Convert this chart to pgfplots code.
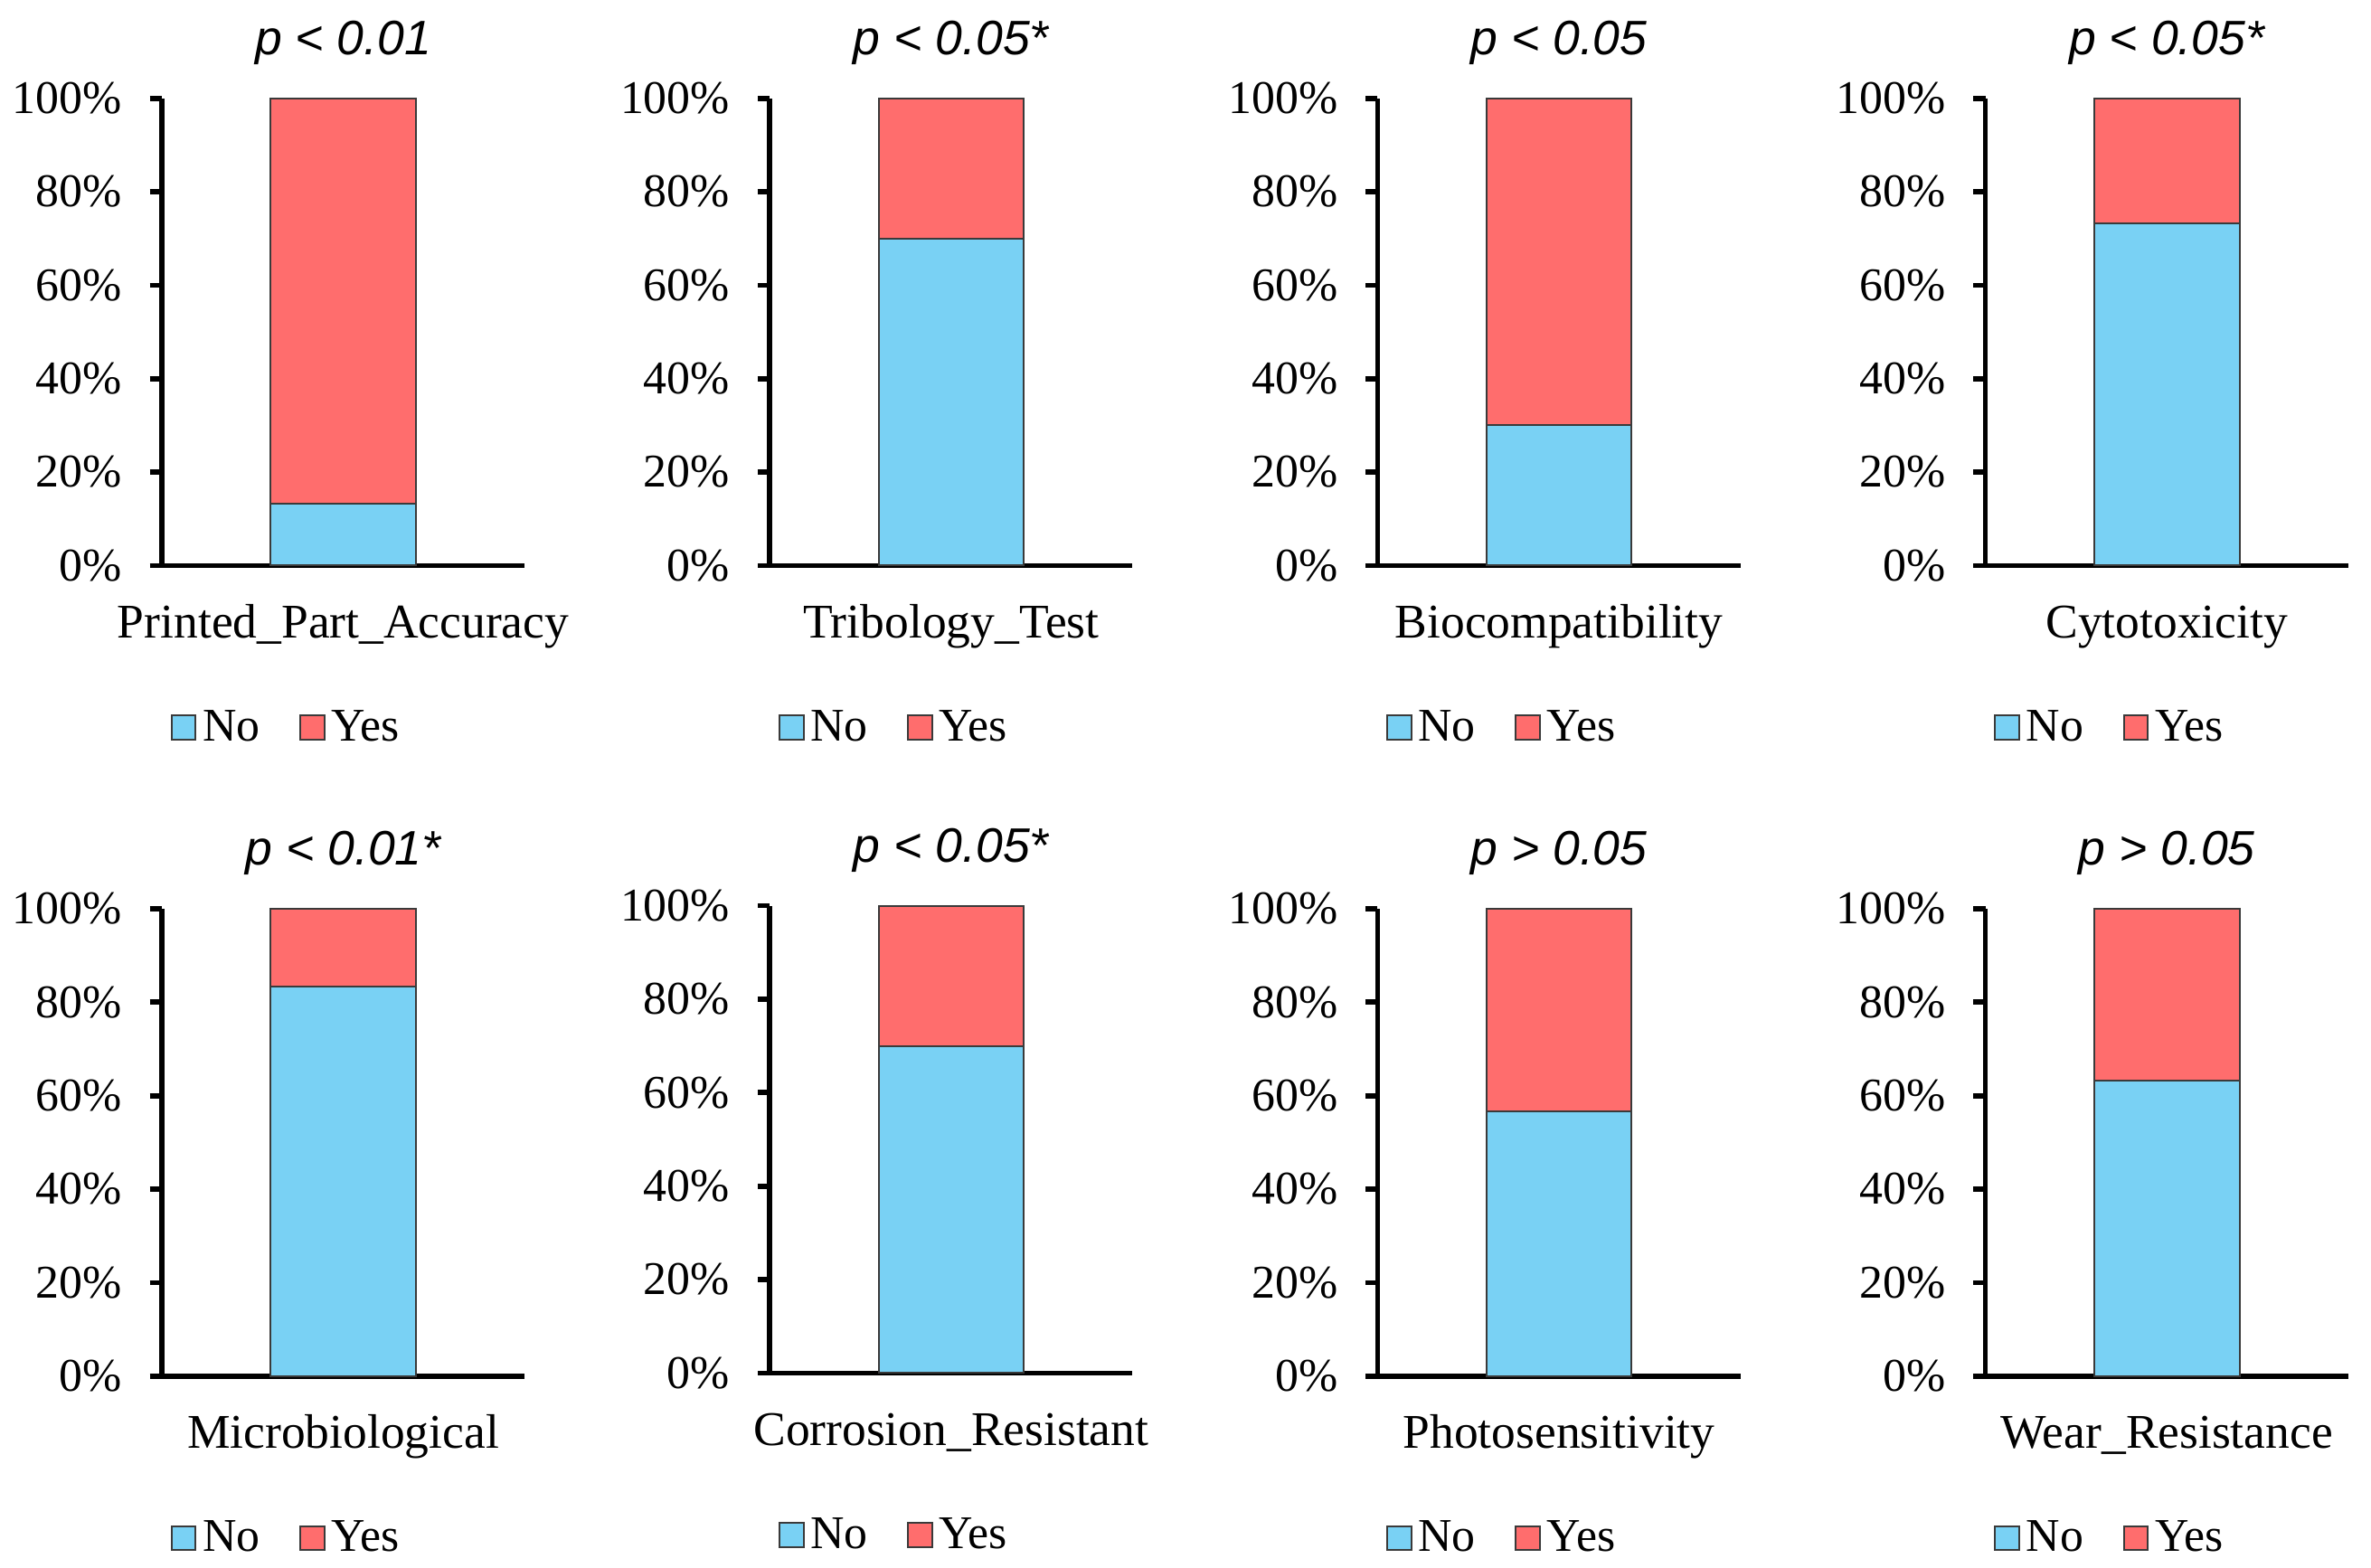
\documentclass[border=0pt]{standalone}
\usepackage{fontspec}
\setmainfont{Liberation Serif}
\setsansfont{Liberation Sans}
\usepackage{pgfplots}
\pgfplotsset{compat=1.18}

\definecolor{noblue}{HTML}{79D1F4}
\definecolor{yesred}{HTML}{FF6D6D}
\definecolor{edge}{HTML}{3A3A3A}

\pgfplotsset{
  panel/.style={
    scale only axis, width=120pt, height=154.5pt,
    xmin=0, xmax=2, ymin=0, ymax=100,
    clip=false,
    axis lines=left,
    axis line style={-, line width=1.7pt, black},
    ybar stacked, bar width=48pt,
    ytick={0,20,...,100},
    yticklabels={0\%,20\%,40\%,60\%,80\%,100\%},
    tick align=outside, major tick length=4pt,
    y tick style={line width=1.7pt, black},
    x tick style={draw=none},
    xtick={1},
    yticklabel style={font=\fontsize{15.5}{18}\selectfont, inner sep=0pt, xshift=-9pt},
    xticklabel style={font=\fontsize{16}{19}\selectfont, anchor=base, inner sep=0pt, yshift=-20pt},
    title style={font=\sffamily\itshape\fontsize{16}{19}\selectfont, at={(0.5,1)}, anchor=base, yshift=8.5pt, inner sep=0pt},
    legend image code/.code={\draw[#1, line width=0.6pt] (0pt,-4pt) rectangle (8pt,4pt);},
    legend columns=2,
    legend style={at={(0.348,-0.347)}, anchor=center, draw=none, fill=none,
      font=\fontsize{15.5}{18}\selectfont,
      /tikz/every even column/.append style={column sep=11pt}},
  }
}

% x, y, title, category, No, Yes
\newcommand\panel[6]{%
  \begin{axis}[panel, at={(#1,#2)}, title={#3}, xticklabels={#4}]
    \addplot[fill=noblue, draw=edge, line width=0.6pt] coordinates {(1,#5)};
    \addplot[fill=yesred, draw=edge, line width=0.6pt] coordinates {(1,#6)};
    \legend{No,Yes}
  \end{axis}}

\begin{document}
\begin{tikzpicture}
  \useasboundingbox (-53.5pt,-331.2pt) rectangle (730.5pt,187pt);
  \panel{0pt}{0pt}{p < 0.01}{Printed\_Part\_Accuracy}{13.3}{86.7}
  \panel{201pt}{0pt}{p < 0.05*}{Tribology\_Test}{70}{30}
  \panel{402pt}{0pt}{p < 0.05}{Biocompatibility}{30}{70}
  \panel{603pt}{0pt}{p < 0.05*}{Cytotoxicity}{73.3}{26.7}
  \panel{0pt}{-268pt}{p < 0.01*}{Microbiological}{83.3}{16.7}
  \panel{201pt}{-267pt}{p < 0.05*}{Corrosion\_Resistant}{70}{30}
  \panel{402pt}{-268pt}{p > 0.05}{Photosensitivity}{56.7}{43.3}
  \panel{603pt}{-268pt}{p > 0.05}{Wear\_Resistance}{63.3}{36.7}
\end{tikzpicture}
\end{document}
